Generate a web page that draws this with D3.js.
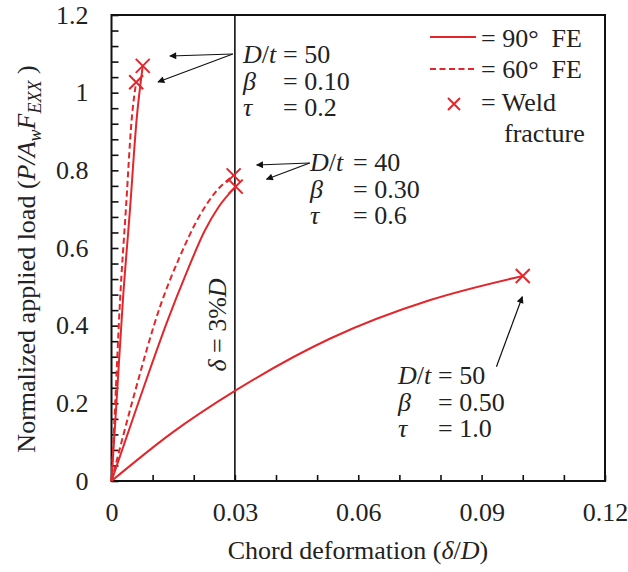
<!DOCTYPE html>
<html>
<head>
<meta charset="utf-8">
<script src="https://cdn.jsdelivr.net/npm/d3@7"></script>
<style>
  html, body { margin: 0; padding: 0; background: #fff; }
  svg { display: block; }
  text { font-family: "Liberation Serif", "Times New Roman", serif; fill: #222; }
</style>
</head>
<body>
<svg id="chart" width="628" height="572"></svg>
<script>
// ---------------- data ----------------
const xTickValues = [0, 0.01, 0.02, 0.03, 0.04, 0.05, 0.06, 0.07, 0.08, 0.09, 0.10, 0.11, 0.12];
const xTickLabels = ["0", "", "", "0.03", "", "", "0.06", "", "", "0.09", "", "", "0.12"];
const yTickValues = [0, 0.04, 0.08, 0.12, 0.16, 0.2, 0.24, 0.28, 0.32, 0.36, 0.4, 0.44, 0.48, 0.52, 0.56, 0.6,
                     0.64, 0.68, 0.72, 0.76, 0.8, 0.84, 0.88, 0.92, 0.96, 1.0, 1.04, 1.08, 1.12, 1.16, 1.2];
const yLabelValues = [0, 0.2, 0.4, 0.6, 0.8, 1.0, 1.2];
const yLabelText = ["0", "0.2", "0.4", "0.6", "0.8", "1", "1.2"];

// D/t = 50, beta = 0.10, tau = 0.2
const a90x = [0, 0.0012, 0.0028, 0.0045, 0.0061, 0.0076];
const a90y = [0, 0.20, 0.47, 0.70, 0.93, 1.069];
const a60x = [0, 0.0009, 0.0021, 0.0035, 0.0049, 0.0060];
const a60y = [0, 0.20, 0.47, 0.70, 0.93, 1.027];
// D/t = 40, beta = 0.30, tau = 0.6
const b90x = [0, 0.0068, 0.0137, 0.0180, 0.0227, 0.0260, 0.0302];
const b90y = [0, 0.210, 0.415, 0.530, 0.645, 0.705, 0.758];
const b60x = [0, 0.0052, 0.0120, 0.0165, 0.0210, 0.0250, 0.0297];
const b60y = [0, 0.210, 0.455, 0.575, 0.675, 0.740, 0.787];
// D/t = 50, beta = 0.50, tau = 1.0
const c90x = [0, 0.0147, 0.0300, 0.0532, 0.0775, 0.1000];
const c90y = [0, 0.124, 0.232, 0.367, 0.466, 0.528];

const seriesNames = ["a90", "a60", "b90", "b60", "c90"];
const seriesType = ["90", "60", "90", "60", "90"];

const limitValue = 0.03; // delta = 3%D

const annoRows1 = [["D/t", "= 50"], ["β", "= 0.10"], ["τ", "= 0.2"]];
const annoRows2 = [["D/t", "= 40"], ["β", "= 0.30"], ["τ", "= 0.6"]];
const annoRows3 = [["D/t", "= 50"], ["β", "= 0.50"], ["τ", "= 1.0"]];

const legendLabels = ["= 90°  FE", "= 60°  FE", "= Weld", "fracture"];

// ---------------- layout ----------------
const red = "#e3262b";
const FS = 26;
const mLeft = 111.5, mRight = 605, mTop = 15, mBottom = 481;

const svg = d3.select("#chart");
const x = d3.scaleLinear().domain([0, 0.12]).range([mLeft, mRight]);
const y = d3.scaleLinear().domain([0, 1.2]).range([mBottom, mTop]);

// axes
const xAxis = d3.axisBottom(x)
  .tickValues(xTickValues)
  .tickSize(-6).tickSizeOuter(0).tickPadding(22)
  .tickFormat((d, i) => xTickLabels[i]);
const gx = svg.append("g").attr("transform", `translate(0,${mBottom})`).call(xAxis);
gx.select(".domain").remove();
gx.selectAll(".tick line").attr("stroke", "#111").attr("stroke-width", 1.6);
gx.selectAll(".tick text").style("font-size", FS + "px").attr("fill", "#222")
  .style("font-family", '"Liberation Serif", "Times New Roman", serif');

const yAxis = d3.axisLeft(y)
  .tickValues(yTickValues)
  .tickSize(-7).tickSizeOuter(0).tickPadding(23)
  .tickFormat(d => {
    const k = yLabelValues.findIndex(v => Math.abs(v - d) < 1e-9);
    return k >= 0 ? yLabelText[k] : "";
  });
const gy = svg.append("g").attr("transform", `translate(${mLeft},0)`).call(yAxis);
gy.select(".domain").remove();
gy.selectAll(".tick line").attr("stroke", "#111").attr("stroke-width", 1.6);
gy.selectAll(".tick text").style("font-size", FS + "px").attr("fill", "#222")
  .style("font-family", '"Liberation Serif", "Times New Roman", serif');

// frame
svg.append("rect")
  .attr("x", mLeft).attr("y", mTop)
  .attr("width", mRight - mLeft).attr("height", mBottom - mTop)
  .attr("fill", "none").attr("stroke", "#111").attr("stroke-width", 2);

// 3% limit line
svg.append("line")
  .attr("x1", x(limitValue)).attr("x2", x(limitValue))
  .attr("y1", y(0)).attr("y2", y(1.2))
  .attr("stroke", "#111").attr("stroke-width", 1.6);

// curves
const seriesData = {
  a90: d3.zip(a90x, a90y), a60: d3.zip(a60x, a60y),
  b90: d3.zip(b90x, b90y), b60: d3.zip(b60x, b60y),
  c90: d3.zip(c90x, c90y)
};
const line = d3.line().x(d => x(d[0])).y(d => y(d[1])).curve(d3.curveMonotoneX);

seriesNames.forEach((name, i) => {
  const pts = seriesData[name];
  svg.append("path")
    .attr("d", line(pts))
    .attr("fill", "none")
    .attr("stroke", red)
    .attr("stroke-width", 2)
    .attr("stroke-dasharray", seriesType[i] === "60" ? "6,3.5" : null);
});

// weld fracture markers (end of each curve)
const crossPath = "M-7,-7L7,7M-7,7L7,-7";
seriesNames.forEach(name => {
  const pts = seriesData[name];
  const last = pts[pts.length - 1];
  svg.append("path")
    .attr("d", crossPath)
    .attr("transform", `translate(${x(last[0])},${y(last[1])})`)
    .attr("stroke", red).attr("stroke-width", 2).attr("fill", "none");
});

// arrow marker
svg.append("defs").append("marker")
  .attr("id", "ah")
  .attr("viewBox", "0 0 10 10")
  .attr("refX", 9).attr("refY", 5)
  .attr("markerUnits", "userSpaceOnUse")
  .attr("markerWidth", 9).attr("markerHeight", 7)
  .attr("orient", "auto")
  .append("path").attr("d", "M0,0L10,5L0,10z").attr("fill", "#111");

const arrows = [
  [[0.0295, 1.0996], [0.0142, 1.0944]],
  [[0.0295, 1.0996], [0.0113, 1.0275]],
  [[0.0482, 0.8189], [0.0353, 0.8137]],
  [[0.0482, 0.8189], [0.0377, 0.7769]],
  [[0.0936, 0.2943], [0.0999, 0.4746]]
];
arrows.forEach(a => {
  svg.append("line")
    .attr("x1", x(a[0][0])).attr("y1", y(a[0][1]))
    .attr("x2", x(a[1][0])).attr("y2", y(a[1][1]))
    .attr("stroke", "#111").attr("stroke-width", 1.2)
    .attr("marker-end", "url(#ah)");
});

// annotation blocks (one text element per block)
function annotation(rows, x0, y0, gap) {
  const t = svg.append("text").attr("x", x0).attr("y", y0).style("font-size", FS + "px");
  rows.forEach((r, i) => {
    const first = t.append("tspan").attr("x", x0).attr("y", y0 + i * 26.5);
    if (r[0] === "D/t") {
      first.style("font-style", "italic").text("D");
      t.append("tspan").text("/");
      t.append("tspan").style("font-style", "italic").text("t");
    } else {
      first.style("font-style", "italic").text(r[0]);
    }
    t.append("tspan").attr("x", x0 + gap).text(r[1]);
  });
}
annotation(annoRows1, 243, 63, 40);
annotation(annoRows2, 310, 171, 43);
annotation(annoRows3, 398, 384, 40);

// legend
svg.append("line").attr("x1", 430).attr("x2", 476).attr("y1", 37).attr("y2", 37)
  .attr("stroke", red).attr("stroke-width", 2);
svg.append("line").attr("x1", 430).attr("x2", 476).attr("y1", 69).attr("y2", 69)
  .attr("stroke", red).attr("stroke-width", 2).attr("stroke-dasharray", "6,3.5");
svg.append("path").attr("d", "M-6,-6L6,6M-6,6L6,-6")
  .attr("transform", "translate(454,104)")
  .attr("stroke", red).attr("stroke-width", 2).attr("fill", "none");
svg.append("text").attr("x", 481).attr("y", 47).style("font-size", FS + "px").attr("xml:space", "preserve").text(legendLabels[0]);
svg.append("text").attr("x", 481).attr("y", 78).style("font-size", FS + "px").attr("xml:space", "preserve").text(legendLabels[1]);
svg.append("text").attr("x", 481).attr("y", 111).style("font-size", FS + "px").text(legendLabels[2]);
svg.append("text").attr("x", 504).attr("y", 142).style("font-size", FS + "px").text(legendLabels[3]);

// delta = 3%D label
const dl = svg.append("text")
  .attr("transform", `translate(${x(limitValue) - 9},325) rotate(-90)`)
  .attr("text-anchor", "middle").style("font-size", FS + "px");
dl.append("tspan").style("font-style", "italic").text("δ");
dl.append("tspan").text(" = 3%");
dl.append("tspan").style("font-style", "italic").text("D");

// x axis title
const xt = svg.append("text").attr("x", 358).attr("y", 559)
  .attr("text-anchor", "middle").style("font-size", FS + "px");
xt.append("tspan").text("Chord deformation (");
xt.append("tspan").style("font-style", "italic").text("δ");
xt.append("tspan").text("/");
xt.append("tspan").style("font-style", "italic").text("D");
xt.append("tspan").text(")");

// y axis title
const yt = svg.append("text").attr("transform", "translate(35,259) rotate(-90)")
  .attr("text-anchor", "middle").style("font-size", FS + "px");
yt.append("tspan").text("Normalized applied load (");
yt.append("tspan").style("font-style", "italic").text("P/A");
yt.append("tspan").style("font-style", "italic").style("font-size", "18px").attr("dy", 6).text("w");
yt.append("tspan").style("font-style", "italic").attr("dy", -6).text("F");
yt.append("tspan").style("font-style", "italic").style("font-size", "18px").attr("dy", 6).text("EXX");
yt.append("tspan").attr("dy", -6).text(" )");
</script>
</body>
</html>
